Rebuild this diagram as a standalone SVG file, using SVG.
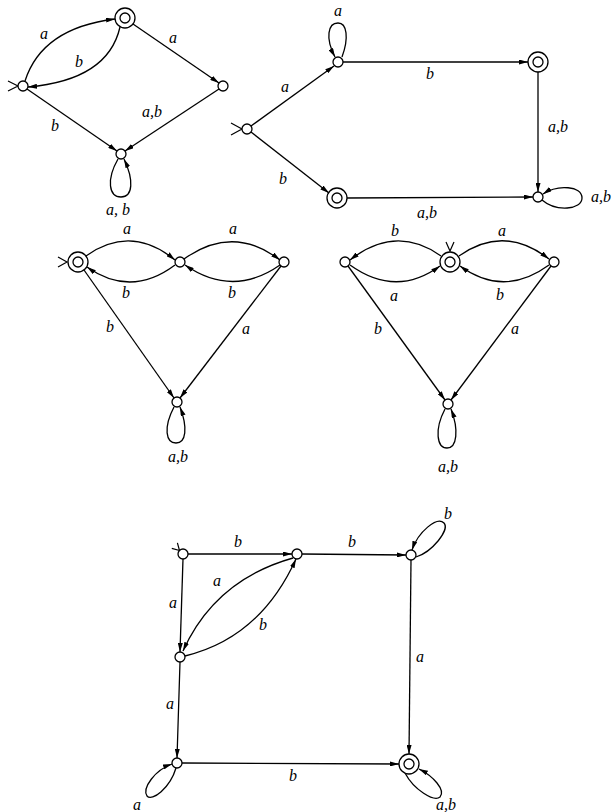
<svg xmlns="http://www.w3.org/2000/svg" width="613" height="812" viewBox="0 0 613 812">
<style>
.n{fill:#fff;stroke:#000;stroke-width:1.3}
.e{fill:none;stroke:#000;stroke-width:1.3;marker-end:url(#ah)}
.s{fill:none;stroke:#000;stroke-width:1.2}
text{font-family:"Liberation Serif","Times New Roman",serif;font-style:italic;font-size:16px;fill:#000;text-anchor:middle}
</style>
<defs>
<marker id="ah" markerUnits="userSpaceOnUse" markerWidth="9" markerHeight="5" viewBox="0 0 9 5" refX="9" refY="2.5" orient="auto">
<path d="M0,0 L9,2.5 L0,5 z" fill="#000"/>
</marker>
</defs>
<rect width="613" height="812" fill="#fff"/>

<g id="connectors">
<!-- diagram 1 -->
<path class="e" d="M25,81 Q42,28 115,19"/>
<path class="e" d="M120,27 Q108,80 28,87"/>
<path class="e" d="M133,24 L219,83"/>
<path class="e" d="M219,89 L125,151"/>
<path class="e" d="M27,89 L117,151"/>
<path class="e" d="M118,159 C106,180 109,197 121,197 C133,197 134,180 124,159"/>
<path class="s" d="M8,81 L18,86 L8,91"/>
<!-- diagram 2 -->
<path class="e" d="M251,126 L334,66"/>
<path class="e" d="M343,62 L528,62"/>
<path class="e" d="M538,72 L538,192"/>
<path class="e" d="M251,132 L329,193"/>
<path class="e" d="M347,198 L533,197"/>
<path class="e" d="M342,57 C349,38 347,23 338,23 C328,23 325,38 335,57"/>
<path class="e" d="M542,200 C556,212 582,210 582,198 C582,186 558,184 543,194"/>
<path class="s" d="M231,123 L242,129 L231,135"/>
<!-- diagram 3 -->
<path class="e" d="M86,256 Q131,224 175,260"/>
<path class="e" d="M175,265 Q131,298 87,267"/>
<path class="e" d="M184,259 Q233,224 280,260"/>
<path class="e" d="M280,265 Q233,298 185,265"/>
<path class="e" d="M84,270 L174,398"/>
<path class="e" d="M281,266 L180,398"/>
<path class="e" d="M174,407 C163,428 166,443 176,443 C186,443 188,428 180,407"/>
<path class="s" d="M58,257 L67,262 L58,267"/>
<!-- diagram 4 -->
<path class="e" d="M441,256 Q396,224 350,260"/>
<path class="e" d="M350,265 Q396,298 440,266"/>
<path class="e" d="M459,256 Q504,224 549,259"/>
<path class="e" d="M549,265 Q504,298 460,266"/>
<path class="e" d="M348,266 L445,400"/>
<path class="e" d="M551,266 L451,400"/>
<path class="e" d="M445,409 C434,430 437,448 447,448 C457,448 459,430 451,409"/>
<path class="s" d="M446,242 L450,251 L454,242"/>
<!-- diagram 5 -->
<path class="e" d="M188,554 L292,554"/>
<path class="e" d="M302,554 L406,555"/>
<path class="e" d="M183,559 L180,652"/>
<path class="e" d="M180,662 L177,758"/>
<path class="e" d="M411,560 L409,754"/>
<path class="e" d="M182,763 L399,764"/>
<path class="e" d="M293,558 Q215,580 183,651"/>
<path class="e" d="M185,656 Q260,638 296,559"/>
<path class="e" d="M416,557 C432,552 450,530 444,523 C437,516 418,532 412,550"/>
<path class="e" d="M176,768 C170,788 152,802 147,796 C142,788 155,770 172,764"/>
<path class="e" d="M405,773 C414,790 434,802 440,797 C446,790 433,776 419,769"/>
<path class="s" d="M171.8,548.4 L179.5,550.5 L177.4,542.8"/>
</g>

<g id="labels">
<text x="44" y="39">a</text>
<text x="79" y="67">b</text>
<text x="173" y="43">a</text>
<text x="152" y="117">a,b</text>
<text x="55" y="131">b</text>
<text x="118" y="215">a, b</text>

<text x="338" y="16">a</text>
<text x="285" y="92">a</text>
<text x="430" y="79">b</text>
<text x="558" y="132">a,b</text>
<text x="283" y="184">b</text>
<text x="427" y="218">a,b</text>
<text x="591" y="202" style="text-anchor:start">a,b</text>

<text x="127" y="234">a</text>
<text x="233" y="234">a</text>
<text x="126" y="298">b</text>
<text x="232" y="298">b</text>
<text x="110" y="332">b</text>
<text x="246" y="334">a</text>
<text x="178" y="462">a,b</text>

<text x="395" y="236">b</text>
<text x="502" y="236">a</text>
<text x="394" y="301">a</text>
<text x="500" y="300">b</text>
<text x="378" y="334">b</text>
<text x="515" y="334">a</text>
<text x="448" y="472">a,b</text>

<text x="238" y="547">b</text>
<text x="352" y="547">b</text>
<text x="448" y="519">b</text>
<text x="217" y="586">a</text>
<text x="173" y="608">a</text>
<text x="263" y="630">b</text>
<text x="420" y="662">a</text>
<text x="170" y="709">a</text>
<text x="293" y="781">b</text>
<text x="137" y="810">a</text>
<text x="446" y="810">a,b</text>
</g>

<g id="d1-start"><circle class="n" cx="23" cy="86" r="5"/></g>
<g id="d1-accept"><circle class="n" cx="125" cy="18" r="10"/><circle class="n" cx="125" cy="18" r="5"/></g>
<g id="d1-right"><circle class="n" cx="223" cy="86" r="5"/></g>
<g id="d1-sink"><circle class="n" cx="121" cy="154" r="5"/></g>

<g id="d2-start"><circle class="n" cx="247" cy="129" r="5"/></g>
<g id="d2-top"><circle class="n" cx="338" cy="62" r="5"/></g>
<g id="d2-accept-top"><circle class="n" cx="538" cy="62" r="10"/><circle class="n" cx="538" cy="62" r="5"/></g>
<g id="d2-accept-bottom"><circle class="n" cx="337" cy="198" r="10"/><circle class="n" cx="337" cy="198" r="5"/></g>
<g id="d2-sink"><circle class="n" cx="538" cy="197" r="5"/></g>

<g id="d3-start"><circle class="n" cx="78" cy="262" r="10"/><circle class="n" cx="78" cy="262" r="5"/></g>
<g id="d3-mid"><circle class="n" cx="180" cy="262" r="5"/></g>
<g id="d3-right"><circle class="n" cx="284" cy="262" r="5"/></g>
<g id="d3-sink"><circle class="n" cx="177" cy="402" r="5"/></g>

<g id="d4-left"><circle class="n" cx="345" cy="262" r="5"/></g>
<g id="d4-start"><circle class="n" cx="450" cy="262" r="10"/><circle class="n" cx="450" cy="262" r="5"/></g>
<g id="d4-right"><circle class="n" cx="554" cy="262" r="5"/></g>
<g id="d4-sink"><circle class="n" cx="448" cy="404" r="5"/></g>

<g id="d5-start"><circle class="n" cx="183" cy="554" r="5"/></g>
<g id="d5-topmid"><circle class="n" cx="297" cy="554" r="5"/></g>
<g id="d5-topright"><circle class="n" cx="411" cy="555" r="5"/></g>
<g id="d5-midleft"><circle class="n" cx="180" cy="657" r="5"/></g>
<g id="d5-botleft"><circle class="n" cx="177" cy="763" r="5"/></g>
<g id="d5-accept"><circle class="n" cx="409" cy="764" r="10"/><circle class="n" cx="409" cy="764" r="5"/></g>
</svg>
